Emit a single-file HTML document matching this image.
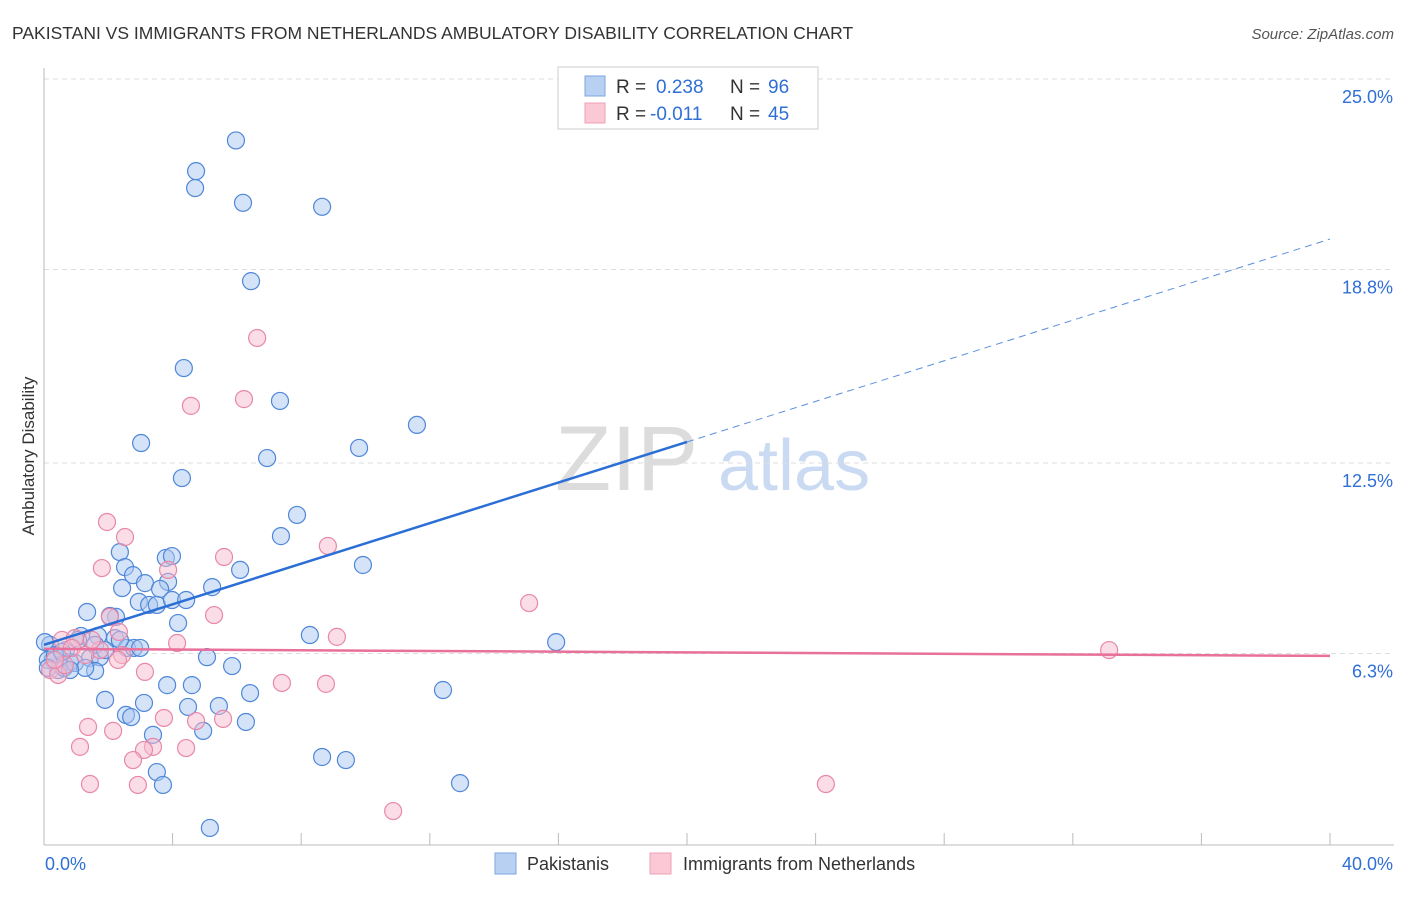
<!DOCTYPE html>
<html><head><meta charset="utf-8"><style>
body{margin:0;background:#fff;font-family:"Liberation Sans",sans-serif;}
svg text{font-family:"Liberation Sans",sans-serif;}
</style></head><body>
<svg id="chart" width="1406" height="892" viewBox="0 0 1406 892" xmlns="http://www.w3.org/2000/svg">
<text x="12" y="39" font-size="17.5" fill="#333">PAKISTANI VS IMMIGRANTS FROM NETHERLANDS AMBULATORY DISABILITY CORRELATION CHART</text>
<text x="1394" y="39" font-size="15" fill="#555" text-anchor="end" font-style="italic">Source: ZipAtlas.com</text>
<g>
<text x="555" y="490" font-size="92" fill="#dcdcdc" font-family="Liberation Serif,serif">ZIP</text>
<text x="718" y="490" font-size="72" fill="#c9daf2">atlas</text>
</g>
<g id="grid"></g>
<g id="axes"></g>
<g id="points"></g>
<g id="trends"></g>
<text transform="translate(34,456) rotate(-90)" font-size="17" fill="#333" text-anchor="middle">Ambulatory Disability</text>
<g>
<rect x="558" y="67" width="260" height="62" fill="#fff" stroke="#ccc"/>
<rect x="585" y="76" width="20" height="20" fill="#b8d1f3" stroke="#7ea6e0"/>
<text x="616" y="93" font-size="19" fill="#333">R = </text><text x="656" y="93" font-size="19" fill="#2f6fd6">0.238</text>
<text x="730" y="93" font-size="19" fill="#333">N = </text><text x="768" y="93" font-size="19" fill="#2f6fd6">96</text>
<rect x="585" y="103" width="20" height="20" fill="#fbc8d6" stroke="#eca0b6"/>
<text x="616" y="120" font-size="19" fill="#333">R = </text><text x="650" y="120" font-size="19" fill="#2f6fd6">-0.011</text>
<text x="730" y="120" font-size="19" fill="#333">N = </text><text x="768" y="120" font-size="19" fill="#2f6fd6">45</text>
</g>
<g>
<rect x="495" y="853" width="21" height="21" fill="#b8d1f3" stroke="#7ea6e0"/>
<text x="527" y="870" font-size="18" fill="#333">Pakistanis</text>
<rect x="650" y="853" width="21" height="21" fill="#fbc8d6" stroke="#eca0b6"/>
<text x="683" y="870" font-size="18" fill="#333">Immigrants from Netherlands</text>
</g>
</svg>
<script>
const yTicks=[25.0,18.8,12.5,6.3];
const yTickLabels=["25.0%","18.8%","12.5%","6.3%"];
const xTickLabels=["0.0%","40.0%"];
const blueX=[5.97,4.73,4.70,6.19,8.65,6.44,4.35,7.34,3.02,11.60,6.94,9.80,4.29,7.87,7.37,2.36,3.79,3.98,2.52,6.10,9.92,2.77,3.14,3.86,2.43,5.23,3.61,2.95,3.27,3.51,3.98,4.42,1.34,4.17,2.24,2.05,8.27,15.93,1.68,1.15,1.06,2.21,2.58,2.80,0.68,0.19,0.28,0.50,0.81,1.43,1.74,5.07,5.85,1.59,0.44,0.62,3.83,4.60,12.41,6.41,1.90,3.11,4.48,5.44,2.55,2.71,6.28,4.95,3.39,8.65,9.39,3.51,3.70,12.94,5.16,0.12,0.96,1.28,0.34,0.56,1.59,1.90,2.36,2.99,0.03,0.12,0.81];
const blueY=[23.0,22.0,21.45,20.97,20.84,18.42,15.59,14.52,13.15,13.74,12.66,12.99,12.01,10.81,10.12,9.60,9.41,9.47,9.11,9.02,9.18,8.85,8.59,8.63,8.43,8.46,8.40,7.98,7.88,7.88,8.04,8.04,7.65,7.29,7.49,7.52,6.90,6.67,6.87,6.87,6.74,6.80,6.48,6.48,6.41,6.58,6.09,5.92,6.02,6.15,6.18,6.18,5.89,5.73,5.76,5.83,5.27,5.27,5.11,5.01,4.79,4.69,4.56,4.59,4.30,4.23,4.07,3.78,3.65,2.93,2.83,2.44,2.02,2.08,0.62,6.09,5.99,5.83,6.25,6.35,6.58,6.41,6.74,6.48,6.67,5.83,5.76];
const pinkX=[6.63,4.57,6.22,1.96,2.52,1.80,5.60,8.83,3.86,15.09,2.05,5.29,2.33,4.14,9.11,33.13,0.56,0.96,0.87,2.43,3.14,7.40,8.77,5.57,4.73,1.37,2.15,3.73,1.12,4.42,3.39,3.11,2.77,1.43,2.92,24.32,10.86,0.19,0.44,0.65,1.74,1.28,0.34,1.49,2.30];
const pinkY=[16.57,14.36,14.58,10.58,10.09,9.08,9.44,9.80,9.02,7.94,7.49,7.55,7.00,6.64,6.84,6.41,6.74,6.80,6.48,6.25,5.70,5.34,5.31,4.17,4.10,3.91,3.78,4.20,3.26,3.22,3.26,3.16,2.83,2.05,2.02,2.05,1.17,5.76,5.60,5.92,6.41,6.25,6.09,6.74,6.09];
const blueTrend=[6.58,19.79];
const pinkTrend=[6.45,6.22];
const X0=44,X1=1330,YB=847,PXPER=30.72;
function sx(v){return X0+(X1-X0)*v/40;}
function sy(v){return YB-v*PXPER;}
const NS="http://www.w3.org/2000/svg";
function mk(tag,attrs,parent){const e=document.createElementNS(NS,tag);for(const k in attrs)e.setAttribute(k,attrs[k]);parent.appendChild(e);return e;}
const grid=document.getElementById('grid'),axes=document.getElementById('axes'),pts=document.getElementById('points'),tr=document.getElementById('trends');
yTicks.forEach((t,i)=>{
 const l=mk('line',{x1:X0,x2:1394,y1:sy(t),y2:sy(t),stroke:'#ddd','stroke-dasharray':'5,4'},grid);
 
 
 const tx=mk('text',{x:1393,y:sy(t)+24,'font-size':18,fill:'#2f6fd6','text-anchor':'end'},axes);
 tx.textContent=yTickLabels[i];
 
 
});
const al=mk('line',{x1:X0,x2:X0,y1:68,y2:845,stroke:'#bbb'},axes);


const bl=mk('line',{x1:X0,x2:1394,y1:845,y2:845,stroke:'#bbb'},axes);


for(let i=1;i<=10;i++){
 const t=mk('line',{x1:sx(i*4),x2:sx(i*4),y1:833,y2:845,stroke:'#bbb'},axes);
 
 
}
[[0,'start',45],[40,'end',1393]].forEach((d,i)=>{
 const t=mk('text',{x:d[2],y:870,'font-size':18,fill:'#2f6fd6','text-anchor':d[1]},axes);
 t.textContent=xTickLabels[i];
 
 
});
function drawPts(xs,ys,fill,stroke,name){
 xs.forEach((x,i)=>{
  const c=mk('circle',{cx:sx(x),cy:sy(ys[i]),r:8.5,fill:fill,'fill-opacity':0.5,stroke:stroke,'stroke-width':1.2},pts);
  
  
 });
}
drawPts(blueX,blueY,'#a9c8f0','#4f87d9','point-pakistanis');
drawPts(pinkX,pinkY,'#f8bcd0','#e888a8','point-netherlands');
const bmid=blueTrend[0]+(blueTrend[1]-blueTrend[0])*0.5;
const b1=mk('line',{x1:sx(0),y1:sy(blueTrend[0]),x2:sx(20),y2:sy(bmid),stroke:'#2b6fd6','stroke-width':2.5},tr);


const b2=mk('line',{x1:sx(20),y1:sy(bmid),x2:sx(40),y2:sy(blueTrend[1]),stroke:'#5a8fdc','stroke-width':1,'stroke-dasharray':'7,5'},tr);


const p1=mk('line',{x1:sx(0),y1:sy(pinkTrend[0]),x2:sx(40),y2:sy(pinkTrend[1]),stroke:'#e8709a','stroke-width':2.5},tr);


</script>
</body></html>
